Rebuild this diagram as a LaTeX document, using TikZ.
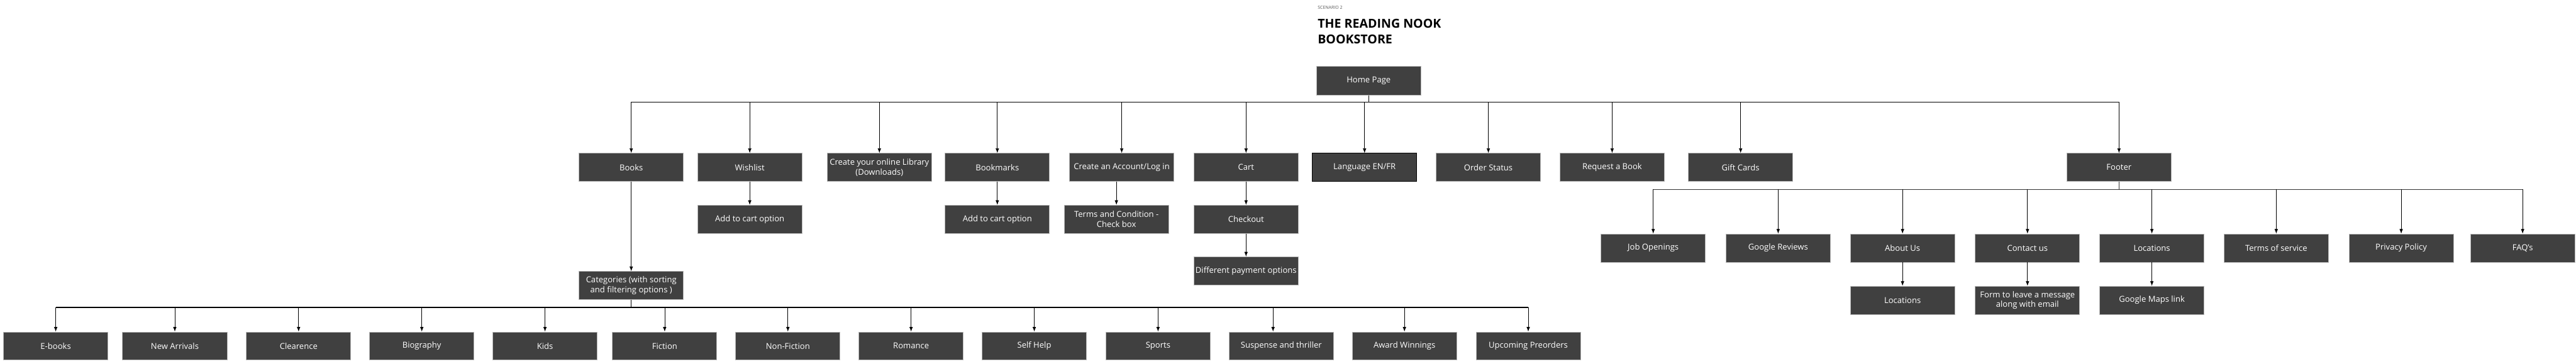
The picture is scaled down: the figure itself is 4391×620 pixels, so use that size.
\documentclass[tikz,border=0pt]{standalone}
\usepackage{fontspec}
\setmainfont{Open Sans}
\usetikzlibrary{arrows.meta}
\definecolor{boxgray}{HTML}{404040}
\definecolor{edgegray}{HTML}{B8B8B8}
\begin{document}
\begin{tikzpicture}[x=1pt,y=-1pt,
  box/.style={fill=boxgray, draw=edgegray, line width=1pt, text=white,
    minimum width=178pt, minimum height=48pt, inner sep=0pt, align=center,
    font=\fontsize{14}{17}\selectfont},
  bus/.style={line width=1.6pt, black},
  arr/.style={line width=0.8pt, black, -{Latex[length=8pt,width=6pt]}}]
\useasboundingbox (0,0) rectangle (4391,620);
% title
\node[anchor=base west, inner sep=0pt, text=black!65, font=\fontsize{7.5}{8}\selectfont] (scen) at (2246,16) {SCENARIO 2};
\node[anchor=base west, inner sep=0pt, align=left, font=\fontsize{21}{27}\bfseries] (title) at (2246,48) {THE READING NOOK};
\node[anchor=base west, inner sep=0pt, align=left, font=\fontsize{21}{27}\bfseries] (title2) at (2246,75) {BOOKSTORE};
% home
\node[box, minimum height=49pt] (home) at (2333,137.5) {Home Page};
% top row
\node[box] (books) at (1076,285.5) {Books};
\node[box] (wish) at (1278,285.5) {Wishlist};
\node[box] (lib) at (1499,285.5) {Create your online Library\\(Downloads)};
\node[box] (bmk) at (1700,285.5) {Bookmarks};
\node[box] (acct) at (1912,285.5) {Create an Account/Log in};
\node[box] (cart) at (2124,285.5) {Cart};
\node[box, draw=black] (lang) at (2326,285.5) {Language EN/FR};
\node[box] (order) at (2537,285.5) {Order Status};
\node[box] (req) at (2748,285.5) {Request a Book};
\node[box] (gift) at (2967,285.5) {Gift Cards};
\node[box] (footer) at (3612,285.5) {Footer};
% second row
\node[box] (wadd) at (1278,374) {Add to cart option};
\node[box] (badd) at (1700,374) {Add to cart option};
\node[box] (terms) at (1903,374) {Terms and Condition -\\Check box};
\node[box] (checkout) at (2124,374) {Checkout};
\node[box] (pay) at (2124,462) {Different payment options};
\node[box] (cat) at (1076,487) {Categories (with sorting\\and filtering options )};
% footer children
\node[box] (job) at (2818,423) {Job Openings};
\node[box] (grev) at (3031,423) {Google Reviews};
\node[box] (about) at (3243,423) {About Us};
\node[box] (contact) at (3456,423) {Contact us};
\node[box] (loc) at (3668,423) {Locations};
\node[box] (tos) at (3880,423) {Terms of service};
\node[box] (priv) at (4093,423) {Privacy Policy};
\node[box] (faq) at (4300,423) {FAQ's};
\node[box] (aloc) at (3243,512) {Locations};
\node[box] (form) at (3456,512) {Form to leave a message\\along with email};
\node[box] (gmap) at (3668,512) {Google Maps link};
% categories
\node[box] (ebooks) at (95,590) {E-books};
\node[box] (newarr) at (298,590) {New Arrivals};
\node[box] (clear) at (509,590) {Clearence};
\node[box] (bio) at (719,590) {Biography};
\node[box] (kids) at (929,590) {Kids};
\node[box] (fic) at (1133,590) {Fiction};
\node[box] (nonfic) at (1343,590) {Non-Fiction};
\node[box] (rom) at (1553,590) {Romance};
\node[box] (self) at (1763,590) {Self Help};
\node[box] (sports) at (1974,590) {Sports};
\node[box] (susp) at (2184,590) {Suspense and thriller};
\node[box] (award) at (2394,590) {Award Winnings};
\node[box] (upcoming) at (2605,590) {Upcoming Preorders};
% buses
\coordinate (topbus) at (0,174);
\coordinate (footbus) at (0,323);
\coordinate (catbus) at (0,524);
\draw[bus] (home.south) -- (home.south |- topbus);
\draw[bus] (books.north |- topbus) -- (footer.north |- topbus);
\foreach \n in {books,wish,lib,bmk,acct,cart,lang,order,req,gift,footer}
  \draw[arr] (\n.north |- topbus) -- (\n.north);
\draw[arr] (wish) -- (wadd);
\draw[arr] (bmk) -- (badd);
\draw[arr] (acct.south -| terms.north) -- (terms.north);
\draw[arr] (cart) -- (checkout);
\draw[arr] (checkout) -- (pay);
\draw[arr] (books) -- (cat);
% footer bus
\draw[bus, black!80] (footer.south) -- (footer.south |- footbus);
\draw[bus, black!80] (job.north |- footbus) -- (faq.north |- footbus);
\foreach \n in {job,grev,about,contact,loc,tos,priv,faq}
  \draw[arr] (\n.north |- footbus) -- (\n.north);
\draw[arr] (about) -- (aloc);
\draw[arr] (contact) -- (form);
\draw[arr] (loc) -- (gmap);
% categories bus
\draw[bus] (cat.south) -- (cat.south |- catbus);
\draw[bus] (ebooks.north |- catbus) -- (upcoming.north |- catbus);
\foreach \n in {ebooks,newarr,clear,bio,kids,fic,nonfic,rom,self,sports,award,upcoming}
  \draw[arr] (\n.north |- catbus) -- (\n.north);
\draw[arr] ([xshift=-14pt]susp.north |- catbus) -- ([xshift=-14pt]susp.north);
\end{tikzpicture}
\end{document}
